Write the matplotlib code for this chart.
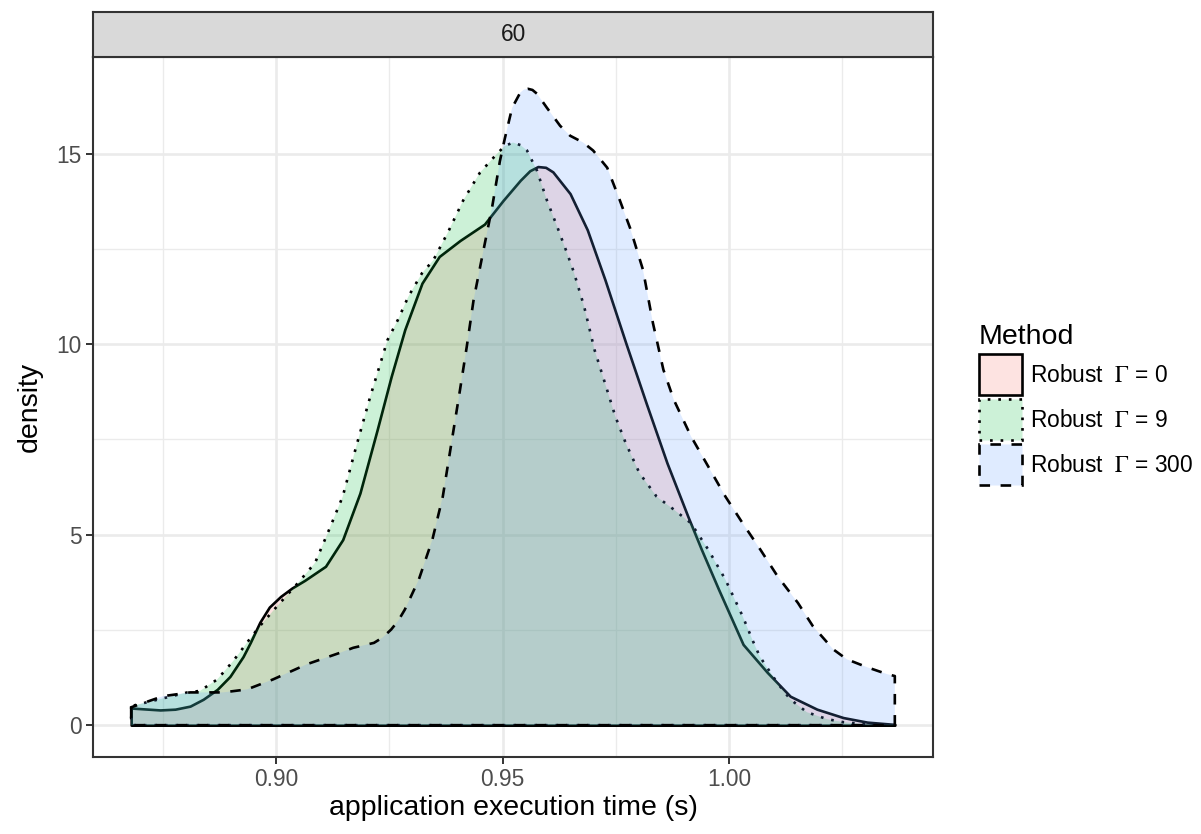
import matplotlib
matplotlib.use("Agg")
import matplotlib.pyplot as plt
from matplotlib.patches import Patch
from matplotlib.ticker import FixedLocator

plt.rcParams['font.family'] = ['Liberation Sans', 'DejaVu Sans']
plt.rcParams['mathtext.fontset'] = 'stix'

# Kernel density estimates of application execution time, panel "60"
panel_label = "60"
method_labels = [r"Robust  $\Gamma$ = 0", r"Robust  $\Gamma$ = 9", r"Robust  $\Gamma$ = 300"]
fill_colors = ["#F8766D", "#00BA38", "#619CFF"]
line_styles = ["solid", (0, (1, 3)), (0, (4, 4))]

gamma0_x = [0.868, 0.8744, 0.8777, 0.881, 0.8839, 0.887, 0.8898, 0.8927, 0.8943, 0.8964,
            0.8985, 0.901, 0.9035, 0.9063, 0.9109, 0.9147, 0.9185, 0.9223, 0.9254, 0.9284,
            0.9322, 0.936, 0.9406, 0.946, 0.9501, 0.9539, 0.956, 0.9578, 0.9595, 0.9611,
            0.9649, 0.9687, 0.9726, 0.9772, 0.9817, 0.9863, 0.9909, 0.9939, 0.9977, 1.0031,
            1.0084, 1.0135, 1.0194, 1.0252, 1.0305, 1.0366]
gamma0_y = [0.45, 0.40, 0.42, 0.50, 0.68, 0.94, 1.28, 1.80, 2.17, 2.70,
            3.10, 3.38, 3.60, 3.80, 4.17, 4.87, 6.09, 7.75, 9.15, 10.38,
            11.60, 12.30, 12.72, 13.15, 13.77, 14.30, 14.55, 14.66, 14.64, 14.52,
            13.95, 13.00, 11.69, 10.03, 8.45, 6.88, 5.48, 4.61, 3.56, 2.12,
            1.39, 0.76, 0.42, 0.20, 0.08, 0.02]

gamma9_x = [0.868, 0.8804, 0.8832, 0.887, 0.8905, 0.8936, 0.8964, 0.9002, 0.9048, 0.9086,
            0.9117, 0.9147, 0.9177, 0.9208, 0.9246, 0.9269, 0.9292, 0.9322, 0.9347, 0.938,
            0.9413, 0.945, 0.9488, 0.9505, 0.9523, 0.954, 0.9554, 0.9576, 0.9598, 0.962,
            0.9642, 0.9657, 0.968, 0.9703, 0.9726, 0.9749, 0.9772, 0.9802, 0.984, 0.9878,
            0.9916, 0.9954, 0.9992, 1.003, 1.0053, 1.0068, 1.0106, 1.0135, 1.0172, 1.0216,
            1.0252, 1.0305, 1.0366]
gamma9_y = [0.50, 0.86, 0.90, 1.20, 1.68, 2.17, 2.60, 3.12, 3.73, 4.26,
            5.13, 6.00, 7.32, 8.63, 10.11, 10.64, 11.25, 11.86, 12.20, 12.95,
            13.77, 14.50, 15.00, 15.20, 15.29, 15.22, 15.08, 14.55, 13.77, 13.10,
            12.40, 11.90, 10.99, 9.85, 8.98, 8.10, 7.40, 6.62, 6.00, 5.66,
            5.30, 4.61, 3.82, 2.86, 2.20, 1.80, 1.12, 0.68, 0.34, 0.16,
            0.08, 0.02, 0.01]

gamma300_x = [0.868, 0.875, 0.881, 0.8883, 0.8936, 0.8993, 0.9068, 0.9141, 0.917, 0.9216,
              0.9235, 0.9254, 0.927, 0.9284, 0.9315, 0.9345, 0.9368, 0.9387, 0.9406, 0.9421,
              0.9436, 0.9455, 0.9477, 0.9494, 0.9505, 0.9521, 0.9539, 0.9547, 0.9556, 0.9566,
              0.9576, 0.9598, 0.9627, 0.9649, 0.9678, 0.97, 0.9731, 0.9759, 0.9782, 0.981,
              0.9832, 0.9855, 0.9878, 0.9916, 0.9954, 0.9992, 1.003, 1.0069, 1.0107, 1.0152,
              1.0185, 1.023, 1.026, 1.0305, 1.0349, 1.0366]
gamma300_y = [0.47, 0.76, 0.86, 0.86, 0.94, 1.20, 1.60, 1.90, 2.03, 2.16,
              2.30, 2.51, 2.75, 3.03, 3.82, 4.87, 6.00, 7.40, 8.80, 9.94,
              11.16, 12.30, 13.60, 14.80, 15.40, 16.20, 16.60, 16.68, 16.70, 16.67,
              16.57, 16.20, 15.73, 15.47, 15.29, 15.08, 14.63, 13.77, 13.03, 11.95,
              10.55, 9.33, 8.54, 7.58, 6.79, 6.00, 5.30, 4.61, 3.91, 3.21,
              2.60, 1.99, 1.73, 1.52, 1.34, 1.29]

series = [(gamma0_x, gamma0_y), (gamma9_x, gamma9_y), (gamma300_x, gamma300_y)]

x_major = [0.90, 0.95, 1.00]
x_minor = [0.875, 0.925, 0.975, 1.025]
y_major = [0, 5, 10, 15]
y_minor = [2.5, 7.5, 12.5]

W, H = 1201, 834
fig = plt.figure(figsize=(W / 100, H / 100), dpi=100)
ax = fig.add_axes([93 / W, (H - 757) / H, 840 / W, 700 / H])

LW = 1.9
for (xs, ys), col, ls in zip(series, fill_colors, line_styles):
    ax.fill_between(xs, 0, ys, facecolor=matplotlib.colors.to_rgba(col, 0.2),
                    edgecolor="black", linewidth=LW, linestyle=ls,
                    joinstyle="round", zorder=3)

# scale limits with 5% expansion, like the default continuous scales
all_x = gamma0_x + gamma9_x + gamma300_x
all_y = gamma0_y + gamma9_y + gamma300_y
xmin, xmax = min(all_x), max(all_x)
xpad = 0.05 * (xmax - xmin)
ymax = max(all_y)
ypad = 0.05 * ymax
ax.set_xlim(xmin - xpad, xmax + xpad)
ax.set_ylim(-ypad, ymax + ypad)

ax.xaxis.set_major_locator(FixedLocator(x_major))
ax.xaxis.set_minor_locator(FixedLocator(x_minor))
ax.yaxis.set_major_locator(FixedLocator(y_major))
ax.yaxis.set_minor_locator(FixedLocator(y_minor))
ax.set_xticklabels([f"{v:.2f}" for v in x_major])
ax.set_yticklabels([str(v) for v in y_major])

ax.grid(which="major", color="#EBEBEB", linewidth=1.9, zorder=0)
ax.grid(which="minor", color="#EBEBEB", linewidth=0.95, zorder=0)
ax.set_axisbelow(True)
ax.tick_params(which="major", length=5, width=1.4, color="#333333",
               labelsize=16.4, labelcolor="#4D4D4D", pad=3)
ax.tick_params(which="minor", length=0)
for sp in ax.spines.values():
    sp.set_color("#333333")
    sp.set_linewidth(1.5)
    sp.set_zorder(5)

ax.set_xlabel("application execution time (s)", fontsize=20.5, color="black", labelpad=3)
ax.set_ylabel("density", fontsize=20.5, color="black", labelpad=10)

# facet strip
sax = fig.add_axes([93 / W, (H - 57) / H, 840 / W, 45 / H])
sax.set_facecolor("#D9D9D9")
sax.set_xticks([])
sax.set_yticks([])
for sp in sax.spines.values():
    sp.set_color("#333333")
    sp.set_linewidth(1.5)
sax.text(0.5, 0.5, panel_label, ha="center", va="center", fontsize=16.4,
         color="#1A1A1A", transform=sax.transAxes)

# legend
handles = [Patch(facecolor=matplotlib.colors.to_rgba(c, 0.2), edgecolor="black",
                 linewidth=LW, linestyle=ls)
           for c, ls in zip(fill_colors, line_styles)]
leg = fig.legend(handles, method_labels, loc="upper left",
                 bbox_to_anchor=(979 / W, (H - 324) / H), frameon=False,
                 title="Method", title_fontsize=20.5, fontsize=16.4,
                 handlelength=1.89, handleheight=2.39, labelspacing=0.18,
                 handletextpad=0.35, borderpad=0, borderaxespad=0,
                 alignment="left")

fig.savefig("out.png", dpi=100)
